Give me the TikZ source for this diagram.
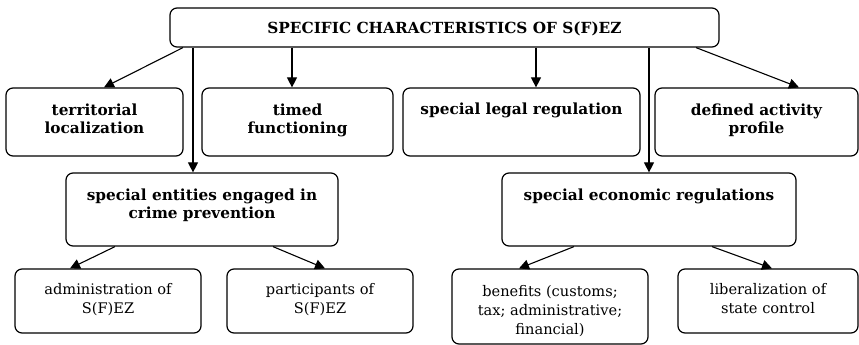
\documentclass[tikz,border=0pt]{standalone}
\usepackage{fontspec}
\setmainfont{DejaVu Serif}
\usetikzlibrary{arrows.meta}
\begin{document}
\begin{tikzpicture}[x=1pt,y=-1pt,
  box/.style={draw, line width=1.2pt, rounded corners=7pt, inner sep=0pt},
  title/.style={font=\bfseries\fontsize{15.3}{18}\selectfont, inner sep=0pt},
  head/.style={font=\bfseries\fontsize{15.3}{18}\selectfont, align=center, anchor=north, inner sep=0pt},
  leaf/.style={font=\fontsize{14.6}{19}\selectfont, align=center, anchor=north, inner sep=0pt},
  link/.style={line width=1.1pt, -{Triangle[length=10pt,width=10pt]}}]
\useasboundingbox (0,0) rectangle (859,345);

% boxes
\node[box, minimum width=549pt, minimum height=39pt] (top) at (444.5,27.5) {};
\node[box, minimum width=177pt, minimum height=68pt] (b1) at (94.5,122) {};
\node[box, minimum width=191pt, minimum height=68pt] (b2) at (297.5,122) {};
\node[box, minimum width=237pt, minimum height=68pt] (b3) at (521.5,122) {};
\node[box, minimum width=203pt, minimum height=68pt] (b4) at (756.5,122) {};
\node[box, minimum width=272pt, minimum height=73pt] (c1) at (202,209.5) {};
\node[box, minimum width=294pt, minimum height=73pt] (c2) at (649,209.5) {};
\node[box, minimum width=186pt, minimum height=64pt] (d1) at (108,301) {};
\node[box, minimum width=186pt, minimum height=64pt] (d2) at (320,301) {};
\node[box, minimum width=196pt, minimum height=75pt] (d3) at (550,306.5) {};
\node[box, minimum width=180pt, minimum height=64pt] (d4) at (768,301) {};

% texts
\node[title] (ttop) at ([yshift=-1pt]top.center) {SPECIFIC CHARACTERISTICS OF S(F)EZ};
\node[head] (tb1) at ([yshift=-16.5pt]b1.north) {territorial\\localization};
\node[head] (tb2) at ([yshift=-16.5pt]b2.north) {timed\\functioning};
\node[head] (tb3) at ([yshift=-15pt]b3.north) {special legal regulation};
\node[head] (tb4) at ([yshift=-16pt]b4.north) {defined activity\\profile};
\node[head] (tc1) at ([yshift=-16pt]c1.north) {special entities engaged in\\crime prevention};
\node[head] (tc2) at ([yshift=-16pt]c2.north) {special economic regulations};
\node[leaf] (td1) at ([yshift=-15pt]d1.north) {administration of\\S(F)EZ};
\node[leaf] (td2) at ([yshift=-15pt]d2.north) {participants of\\S(F)EZ};
\node[leaf] (td3) at ([yshift=-17pt]d3.north) {benefits (customs;\\tax; administrative;\\financial)};
\node[leaf] (td4) at ([yshift=-15pt]d4.north) {liberalization of\\state control};

% connectors
\draw[link] ([xshift=-261.5pt]top.south) -- ([xshift=9.5pt]b1.north);
\draw[link] ([xshift=-251.5pt]top.south) -- ([xshift=-251.5pt]top.south |- c1.north);
\draw[link] ([xshift=-152.5pt]top.south) -- ([xshift=-152.5pt]top.south |- b2.north);
\draw[link] ([xshift=91.5pt]top.south) -- ([xshift=91.5pt]top.south |- b3.north);
\draw[link] ([xshift=204.5pt]top.south) -- ([xshift=204.5pt]top.south |- c2.north);
\draw[link] ([xshift=251.5pt]top.south) -- ([xshift=42.5pt]b4.north);
\draw[link] ([xshift=-87pt]c1.south) -- ([xshift=-38pt]d1.north);
\draw[link] ([xshift=71pt]c1.south) -- ([xshift=5pt]d2.north);
\draw[link] ([xshift=-75pt]c2.south) -- ([xshift=-31pt]d3.north);
\draw[link] ([xshift=63pt]c2.south) -- ([xshift=4pt]d4.north);
\end{tikzpicture}
\end{document}
